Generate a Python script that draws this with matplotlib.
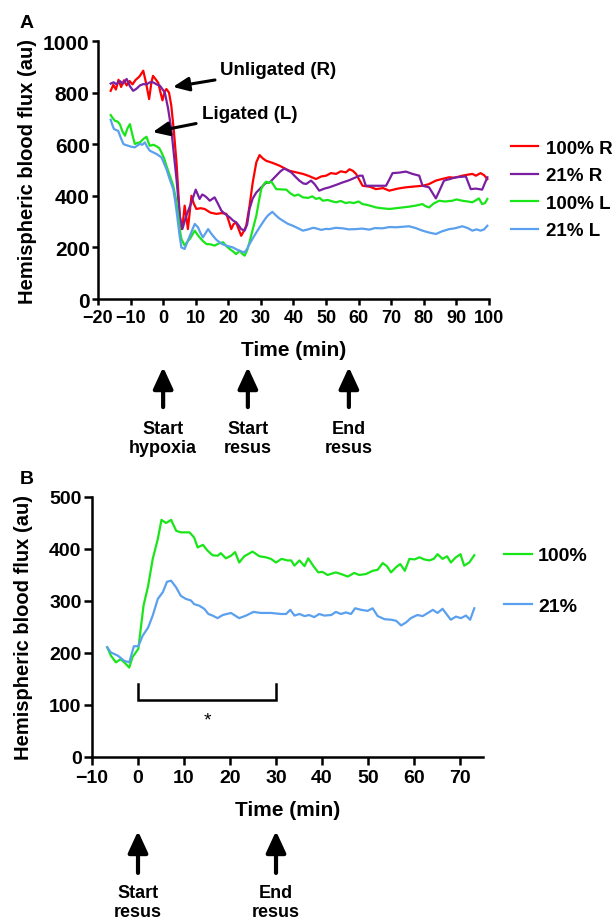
import matplotlib
matplotlib.use('Agg')
import matplotlib.pyplot as plt
import numpy as np

plt.rcParams['font.family'] = ['Liberation Sans', 'DejaVu Sans']
plt.rcParams['font.weight'] = 'bold'
plt.rcParams['axes.labelweight'] = 'bold'
plt.rcParams['axes.linewidth'] = 1.5

# ---- panel A data: (time min, flux au) ----
red_100R = [(-16.1,807),(-15.3,830),(-14.5,812),(-13.7,850),(-12.9,822),(-12.0,848),(-11.2,828),(-10.3,845),
            (-9.4,832),(-8.4,850),(-7.3,862),(-6.1,885),(-5.2,835),(-4.3,775),(-3.6,840),(-3.1,865),(-2.3,852),
            (-1.5,838),(-0.8,800),(-0.2,770),(0.5,805),(1.0,814),(1.8,800),(2.5,750),(3.3,650),(4.1,530),(5.1,323),
            (5.6,271),(6.1,300),(6.6,362),(7.1,320),(7.6,271),(8.1,330),(8.7,400),(9.4,370),(10.2,349),(11.5,352),
            (12.75,349),(14.5,335),(16.3,330),(18.0,333),(19.4,330),(20.2,300),(20.9,271),(21.6,290),(22.4,297),
            (23.2,270),(23.95,245),(24.7,262),(25.5,284),(26.5,360),(27.5,452),(28.6,530),(29.6,558),(30.6,545),
            (31.6,536),(33.5,528),(35.7,517),(37.5,505),(38.8,497),(40.5,492),(42.9,485),(44.5,478),(46.0,470),
            (46.9,465),(48.5,475),(50,478),(51.5,488),(53.1,485),(54.5,495),(56.1,491),(57.2,503),(58.2,497),
            (59.2,485),(60.2,462),(61.2,439),(63.5,435),(65.3,426),(67.5,430),(69.4,420),(72.0,428),(74.5,433),
            (77.0,436),(79.6,439),(81.5,445),(83.7,459),(85.5,465),(87.8,472),(89.5,470),(91.8,478),(93.5,482),
            (94.9,485),(96.0,478),(97.4,488),(98.5,480),(99.5,465)]

purple_21R = [(-16.1,835),(-15.2,840),(-14.3,832),(-13.3,845),(-12.3,835),(-11.2,853),(-10.2,825),(-9.2,807),
              (-8.2,815),(-7.1,828),(-6.1,833),(-5.1,832),(-4.1,840),(-3.1,840),(-2.0,832),(-1.0,827),(0.5,801),
              (1.5,740),(2.5,659),(3.3,560),(4.1,465),(5.1,323),(5.9,271),(7.1,323),(8.7,375),(10.0,424),(11.2,388),
              (12.0,405),(12.75,400),(13.5,392),(14.3,381),(15.8,394),(16.8,370),(17.9,342),(19.0,330),(20.4,317),
              (21.4,305),(22.4,297),(23.2,285),(23.95,271),(25.0,265),(25.8,290),(26.5,349),(27.5,390),(28.6,413),
              (30.6,439),(31.5,450),(32.7,452),(34.7,478),(36.0,495),(37.2,506),(38.3,498),(39.3,491),(40.5,475),
              (41.8,459),(43.0,448),(43.9,446),(45.4,459),(46.5,445),(47.9,420),(49.5,428),(51,433),(53,442),
              (55.1,452),(57.0,460),(59.2,472),(60.2,478),(61.2,478),(62.2,439),(65.3,439),(68.4,439),(69.5,465),
              (70.4,488),(72.5,490),(74.5,494),(76.5,485),(78.6,478),(79.6,439),(81.6,433),(83.7,390),(84.8,420),
              (86.2,459),(88.0,465),(89.8,472),(92.9,475),(94.4,426),(96.0,428),(97.9,424),(99.5,472)]

green_100L = [(-16.1,713),(-15.4,700),(-14.8,691),(-14.0,688),(-13.3,678),(-12.5,650),(-11.7,633),(-11.0,660),
              (-10.2,678),(-9.5,640),(-8.7,601),(-7.9,605),(-7.1,607),(-6.1,620),(-5.1,629),(-4.6,610),(-4.1,594),
              (-3.0,598),(-2.0,592),(-1.2,585),(-0.5,568),(0.3,545),(1.0,517),(2.0,480),(3.1,439),(3.9,390),(4.6,323),
              (5.1,270),(5.6,233),(6.6,207),(7.4,222),(8.2,233),(9.0,250),(9.7,265),(10.5,250),(11.2,239),(12.2,225),
              (13.3,213),(14.5,212),(15.8,207),(17.0,215),(18.4,220),(19.4,205),(20.4,194),(21.4,185),(22.4,174),
              (23.5,187),(24.3,175),(25.0,168),(25.8,190),(26.5,220),(27.5,270),(28.6,323),(29.4,380),(30.1,426),
              (30.9,445),(31.6,455),(32.3,450),(33.2,455),(34.0,440),(34.7,426),(36.0,425),(37.8,424),(39.0,410),
              (40.3,400),(41.5,405),(42.9,394),(44.5,392),(45.8,398),(46.9,388),(48.0,392),(49.0,381),(50.5,384),
              (52.0,378),(53.1,375),(54.5,380),(56.0,372),(57.2,375),(58.5,372),(60.0,378),(61.2,368),(62.5,365),
              (64.0,360),(65.3,355),(67.0,352),(69.4,349),(71.5,352),(73.5,355),(75.5,358),(77.5,362),(79.6,368),
              (80.5,360),(81.6,355),(83.0,370),(84.7,381),(86.5,378),(88.8,381),(90.0,386),(91.8,381),(93.5,378),
              (94.9,375),(96.0,383),(96.9,390),(97.9,368),(98.8,372),(99.5,388)]

blue_21L = [(-16.1,695),(-15.6,675),(-15.1,659),(-14.4,655),(-13.8,652),(-13.0,625),(-12.2,601),(-11.5,597),
            (-10.7,594),(-9.7,590),(-8.7,588),(-7.9,595),(-7.1,601),(-6.4,598),(-5.6,607),(-4.9,590),(-4.1,575),
            (-3.0,568),(-2.0,562),(-1.2,555),(-0.5,549),(0.3,525),(1.0,504),(2.0,465),(3.1,426),(3.7,380),(4.3,323),
            (5.0,250),(5.6,200),(6.6,194),(7.4,220),(8.2,245),(9.0,270),(9.7,291),(10.7,278),(11.5,255),(12.2,239),
            (13.0,255),(13.8,271),(14.5,258),(15.3,245),(16.3,230),(17.3,220),(18.3,212),(19.4,207),(20.4,203),
            (21.4,200),(22.4,193),(23.5,187),(24.3,183),(25.0,181),(25.8,195),(26.5,213),(27.5,235),(28.6,258),
            (29.6,278),(30.6,297),(31.4,312),(32.1,323),(33.5,338),(34.7,323),(35.7,312),(36.7,304),(38.2,292),
            (39.8,284),(41.3,275),(42.9,265),(44.5,270),(46.0,276),(46.9,274),(48.5,268),(50.0,272),(51.0,271),
            (53.0,276),(55.1,274),(57.0,270),(59.2,271),(61.0,273),(63.3,269),(65.0,275),(67.3,274),(69.5,279),
            (71.4,278),(73.5,280),(75.5,282),(77.5,275),(79.6,265),(81.5,258),(83.7,252),(85.5,262),(87.8,271),
            (89.5,274),(91.8,282),(93.5,275),(94.9,265),(96.2,270),(97.4,265),(98.5,270),(99.5,284)]

# ---- panel B data ----
green_100 = [(-6.7,211),(-5.9,195),(-4.8,182),(-3.8,188),(-3.0,182),(-1.9,172),(-1.2,192),(0.07,208),(1.2,291),
             (2.2,329),(3.2,381),(4.3,419),(5.1,456),(6.1,450),(7.2,456),(8.3,435),(9.3,432),(11.2,432),(12.2,422),
             (12.97,403),(14.1,408),(15.1,397),(16.2,388),(17.3,387),(18.0,392),(19.1,382),(20.2,387),(21.1,394),
             (22.0,374),(23.1,386),(24.9,395),(26.4,386),(27.8,384),(28.9,381),(30.0,374),(31.2,381),(32.5,378),
             (33.3,378),(34.0,368),(35.1,378),(36.2,367),(37.0,382),(38.3,365),(39.2,355),(40.1,356),(41.2,350),
             (43.0,355),(44.1,352),(45.6,347),(47.0,354),(48.1,350),(49.6,352),(51.0,358),(52.1,360),(53.2,373),
             (54.1,367),(55.0,355),(56.1,365),(57.0,371),(58.0,358),(59.0,381),(60.1,380),(61.2,384),(62.2,380),
             (63.3,378),(64.3,381),(65.1,390),(66.2,381),(67.2,386),(68.0,374),(69.1,384),(70.1,390),(70.9,368),
             (72.0,374),(73.1,388)]

blue_21 = [(-6.7,211),(-5.9,201),(-4.4,195),(-3.0,185),(-1.9,182),(-0.9,213),(0.07,213),(1.0,233),(2.2,249),
           (3.2,272),(4.3,304),(5.4,317),(6.3,337),(7.2,339),(8.3,326),(9.3,310),(10.4,304),(11.5,301),(12.2,294),
           (13.3,291),(14.4,285),(15.3,275),(16.2,272),(17.3,267),(18.4,273),(20.2,277),(22.0,267),(23.5,272),
           (25.1,279),(26.7,277),(28.9,277),(31.1,275),(32.2,275),(33.1,283),(34.0,272),(35.1,275),(36.2,271),
           (37.2,273),(38.3,269),(39.4,275),(40.5,272),(42.0,273),(43.0,279),(44.1,275),(45.2,278),(46.3,275),
           (47.2,286),(48.5,283),(49.9,281),(51.0,286),(52.1,271),(53.6,265),(55.0,264),(56.1,262),(57.2,253),
           (58.3,259),(59.3,267),(60.7,273),(61.9,271),(63.0,277),(64.1,283),(65.1,277),(66.2,285),(67.3,272),
           (68.0,264),(69.1,270),(70.2,267),(71.3,272),(72.2,264),(73.1,286)]

series_A = [(red_100R, '#ff0000', '100% R'), (purple_21R, '#7a1fa2', '21% R'),
            (green_100L, '#19e619', '100% L'), (blue_21L, '#5aa0ee', '21% L')]
series_B = [(green_100, '#19e619', '100%'), (blue_21, '#5aa0ee', '21%')]

events_A = [(0, 'Start\nhypoxia'), (26, 'Start\nresus'), (57, 'End\nresus')]
events_B = [(0, 'Start\nresus'), (30, 'End\nresus')]


def style_axes(ax, ticklen, xsize, ysize):
	for side in ('top', 'right'):
		ax.spines[side].set_visible(False)
	ax.spines['left'].set_linewidth(1.8)
	ax.spines['bottom'].set_linewidth(1.8)
	ax.tick_params(direction='out', length=ticklen, width=1.8, pad=1.5)
	ax.tick_params(axis='x', labelsize=xsize, pad=2.5)
	ax.tick_params(axis='y', labelsize=ysize)


def event_arrows(ax, events, tip, base, txt_y, size):
	trans = ax.get_xaxis_transform()
	for t, label in events:
		ax.annotate('', xy=(t, tip), xytext=(t, base), xycoords=trans, textcoords=trans,
			annotation_clip=False,
			arrowprops=dict(arrowstyle='-|>,head_length=0.65,head_width=0.3', lw=3, color='black',
				mutation_scale=20, shrinkA=0, shrinkB=0))
		ax.text(t, txt_y, label, transform=trans, ha='center', va='top', fontsize=size,
			linespacing=1.15, clip_on=False)


fig = plt.figure(figsize=(6.15, 9.2), dpi=100)

# ---------------- panel A ----------------
axA = fig.add_axes([0.1593, 0.6739, 0.6358, 0.2804])
for data, color, label in series_A:
	arr = np.array(data)
	axA.plot(arr[:, 0], arr[:, 1], color=color, lw=1.6, label=label)

axA.set_xlim(-20, 100)
axA.set_ylim(0, 1000)
axA.set_xticks(np.arange(-20, 101, 10))
axA.set_yticks(np.arange(0, 1001, 200))
style_axes(axA, 4.5, 13, 15)
axA.set_xlabel('Time (min)', fontsize=15, labelpad=10)
axA.set_ylabel('Hemispheric blood flux (au)', fontsize=14.5)
axA.yaxis.set_label_coords(-0.155, 0.5)

axA.legend(loc='center left', bbox_to_anchor=(1.056, 0.425), frameon=False, fontsize=13.5,
	handlelength=1.45, handletextpad=0.4, labelspacing=0.55, borderpad=0, borderaxespad=0)

arrow_small = dict(arrowstyle='-|>,head_length=0.8,head_width=0.35', lw=2.2, color='black',
	mutation_scale=12, shrinkA=2, shrinkB=0)
axA.annotate('Unligated (R)', xy=(3.0, 822), xytext=(17.6, 890), ha='left', va='center',
	fontsize=13.5, arrowprops=arrow_small)
axA.annotate('Ligated (L)', xy=(-3.2, 647), xytext=(11.8, 721), ha='left', va='center',
	fontsize=13.5, arrowprops=arrow_small)

event_arrows(axA, events_A, -0.264, -0.419, -0.47, 13)
fig.text(27 / 615, 1 - 24 / 920, 'A', fontsize=14, ha='center', va='center')

# ---------------- panel B ----------------
axB = fig.add_axes([0.1496, 0.1761, 0.6358, 0.2826])
for data, color, label in series_B:
	arr = np.array(data)
	axB.plot(arr[:, 0], arr[:, 1], color=color, lw=1.6, label=label)

axB.set_xlim(-10, 75)
axB.set_ylim(0, 500)
axB.set_xticks(np.arange(-10, 71, 10))
axB.set_yticks(np.arange(0, 501, 100))
style_axes(axB, 6, 14, 14)
axB.set_xlabel('Time (min)', fontsize=15, labelpad=10)
axB.set_ylabel('Hemispheric blood flux (au)', fontsize=14.5)
axB.yaxis.set_label_coords(-0.15, 0.5)

axB.legend(loc='center left', bbox_to_anchor=(1.054, 0.677), frameon=False, fontsize=14,
	handlelength=1.45, handletextpad=0.3, labelspacing=1.7, borderpad=0, borderaxespad=0)

# significance bracket 0-30 min
axB.plot([0, 0, 30, 30], [140, 110, 110, 140], color='black', lw=1.8, solid_joinstyle='miter')
axB.text(15, 72, '*', fontsize=14, fontweight='normal', ha='center', va='center')

event_arrows(axB, events_B, -0.285, -0.446, -0.49, 13)
fig.text(27 / 615, 1 - 480 / 920, 'B', fontsize=14, ha='center', va='center')

fig.savefig('out.png', dpi=100)
